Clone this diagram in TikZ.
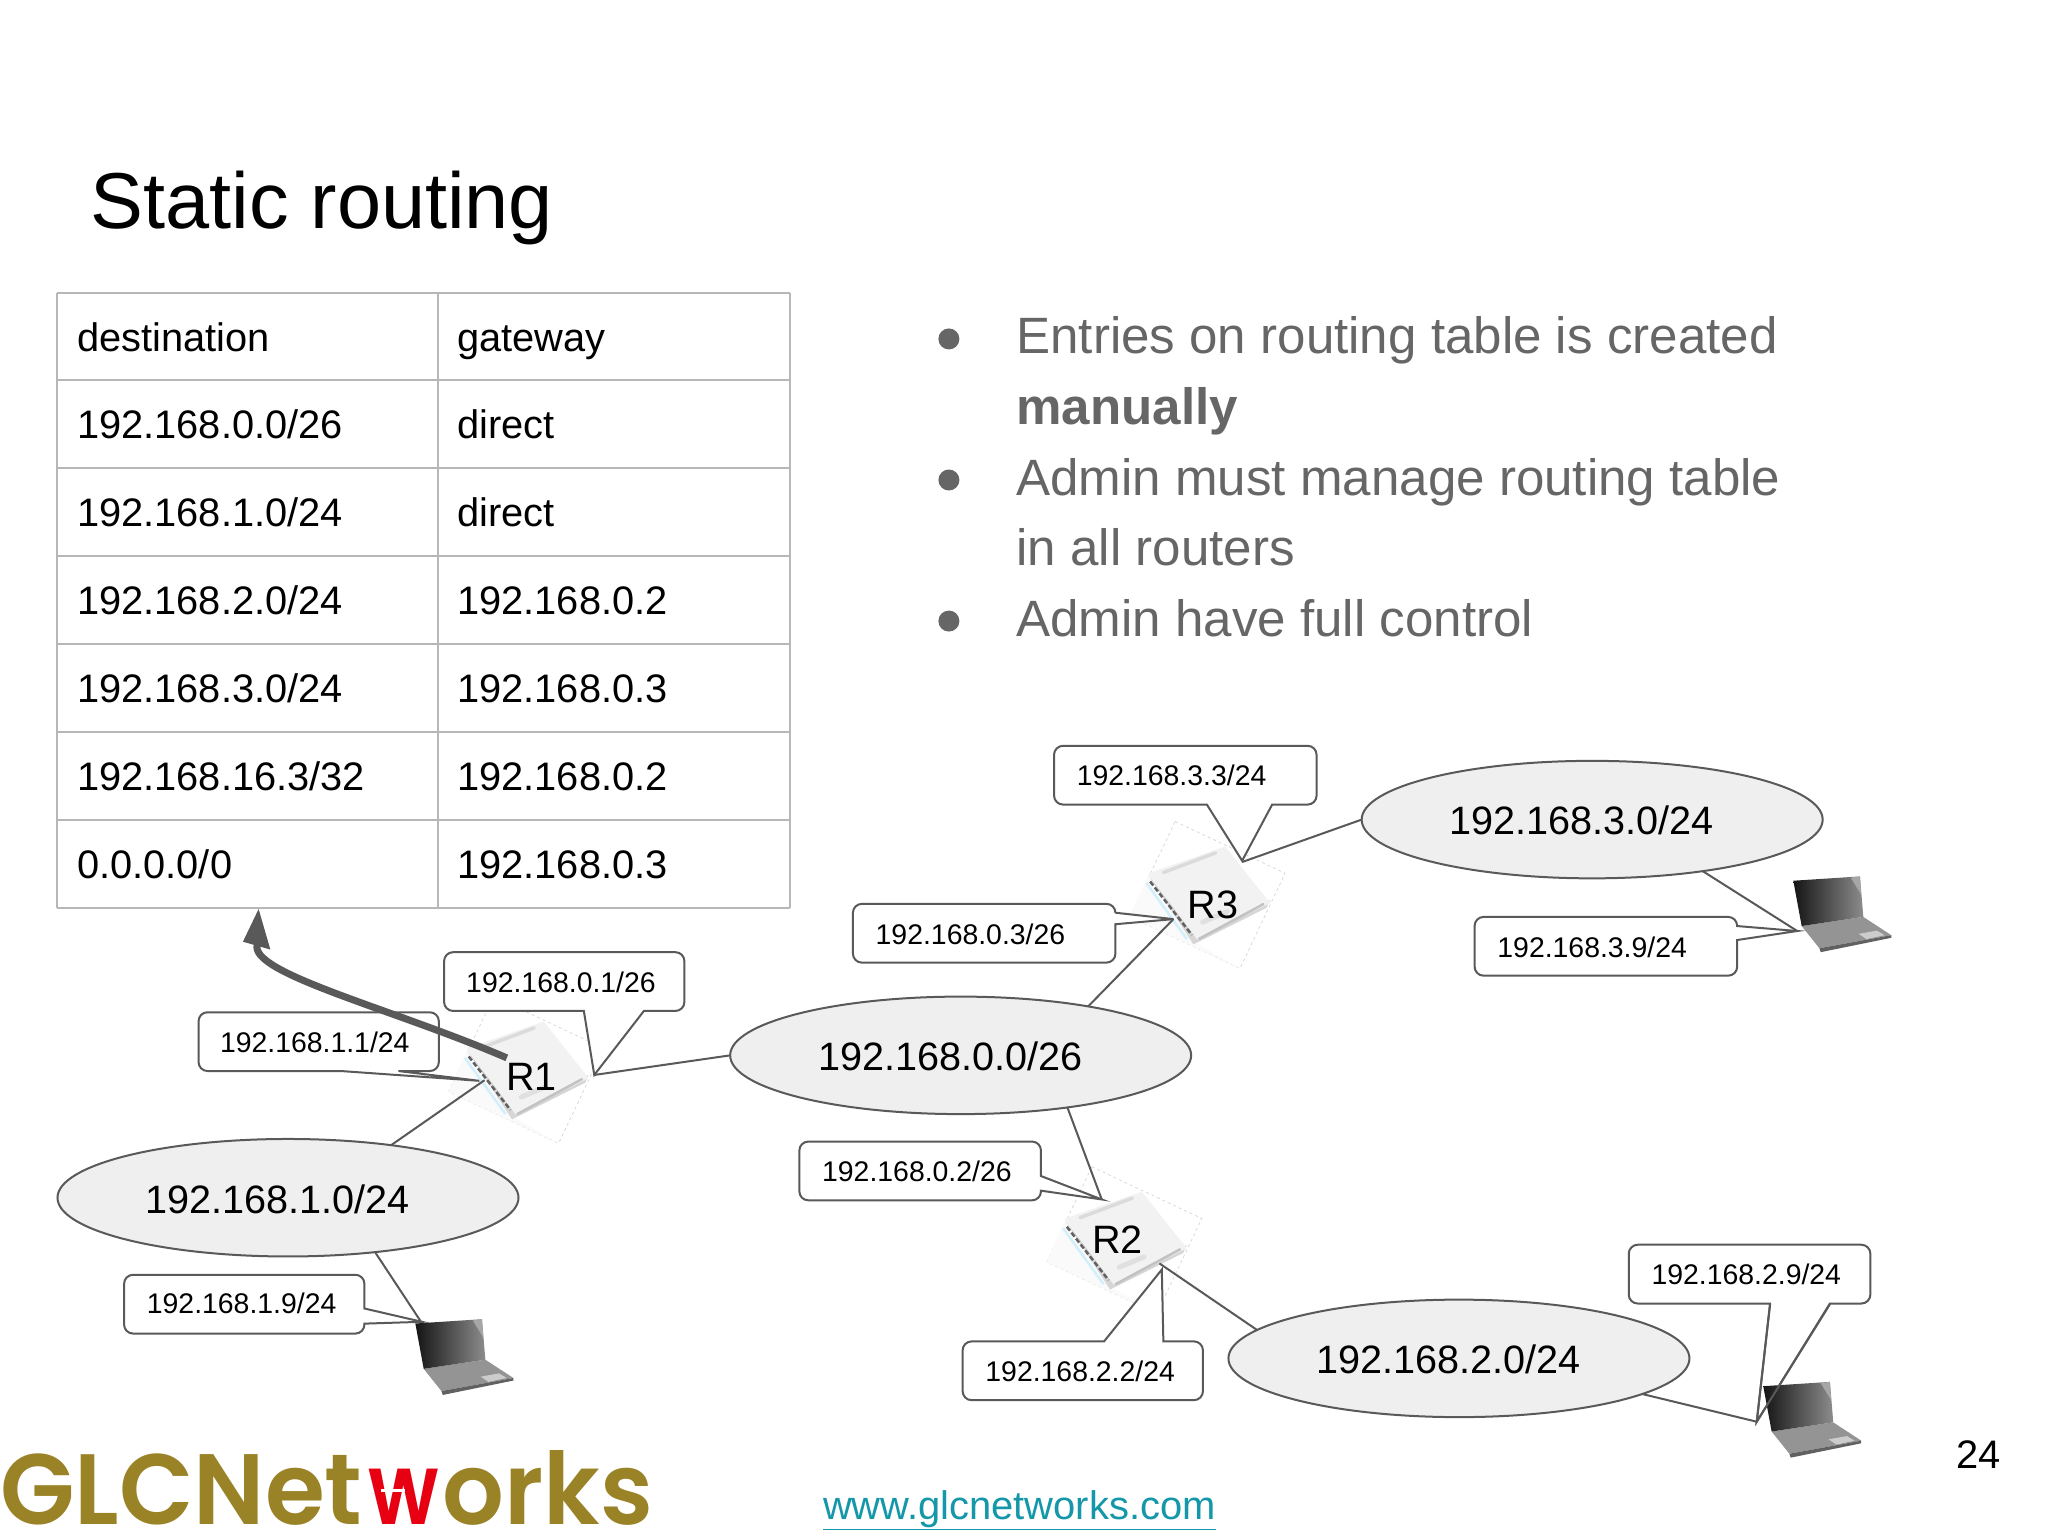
\documentclass[tikz,border=0pt]{standalone}
\usepackage{fontspec}
\setmainfont{Liberation Sans}
\newfontfamily\logofont{Poppins SemiBold}[FakeStretch=0.97]
\usetikzlibrary{shapes.geometric,arrows.meta}
\definecolor{ink}{HTML}{595959}
\definecolor{bodygrey}{HTML}{666666}
\definecolor{gridgrey}{HTML}{B7B7B7}
\definecolor{netfill}{HTML}{EFEFEF}
\definecolor{logogold}{HTML}{9A8226}
\definecolor{logored}{HTML}{E60012}
\definecolor{linkteal}{HTML}{1497A8}
\newcommand\fsz[1]{\fontsize{#1}{#1}\selectfont}
\tikzset{
  netell/.style={ellipse,draw=ink,fill=netfill,line width=2pt,minimum width=461pt,minimum height=117.5pt,inner sep=0pt,outer sep=0pt},
  wire/.style={draw=ink,line width=2pt},
  calloutbox/.style={draw=ink,fill=white,line width=2pt,line join=miter},
  smalltxt/.style={font=\fsz{28.4},inner sep=0pt,text=black},
  bigtxt/.style={font=\fsz{39.6},inner sep=0pt,text=black},
  celltxt/.style={font=\fsz{39.8},inner sep=0pt,anchor=base west,text=black},
  bodytxt/.style={font=\fsz{51.1},inner sep=0pt,anchor=base west,text=bodygrey},
  bulletdot/.style={circle,fill=bodygrey,minimum size=21pt,inner sep=0pt},
  gridline/.style={draw=gridgrey,line width=2pt},
  routericon/.pic={
    \draw[draw=black!16,fill=white,line width=.7pt,dash pattern=on 3pt off 3pt] (0,0) -- (84.2,39.6) -- (49.7,112.4) -- (-34.5,72.9) -- cycle;
    \fill[black!2] (-34.5,72.9) -- (-20,40) -- (16,93) -- (49.7,112.4) -- cycle;
    \fill[black!16] (-20.4,41) -- (14,94) -- (70,66) -- (72.7,60) -- (16,88) -- cycle;
    \fill[black!5] (-20.4,39.6) -- (38.3,19.1) -- (72.7,62.5) -- (16.6,90) -- cycle;
    \draw[black!14,line width=3.5pt,line cap=round] (-9,39) -- (31,24);
    \draw[black!12,line width=5pt,line cap=round] (21,77) -- (40,69);
    \draw[black!24,line width=2.5pt] (18,90) -- (68,63);
    \draw[cyan!18!white,line width=2.5pt] (-22,47) -- (9,90);
    \draw[black!62,line width=2.5pt,dash pattern=on 5pt off 2.5pt] (-19.1,45.9) -- (12.8,86.8);
  },
  laptopicon/.pic={
    \fill[black!42] (6.4,38) -- (53.6,31) -- (75,45) -- (20,55) -- cycle;
    \fill[black!62] (20,55) -- (75,45) -- (75,47) -- (21,58) -- cycle;
    \fill[black!20] (50,44) -- (64,41.5) -- (70,45) -- (56,48) -- cycle;
    \shade[left color=black!92,right color=black!45] (0,3.3) -- (51,0) -- (53.6,31) -- (6.4,38) -- cycle;
    \fill[black!35] (44,1) -- (51,0) -- (52,14) -- cycle;
  },
}
% name, x1, y1, x2, y2, tail near x (bottom edge), tail far x, tip
\newcommand\calloutdown[8]{%
  \coordinate (#1tip) at #8;
  \draw[calloutbox] (#6,#5) [rounded corners=9pt] -- (#2,#5) -- (#2,#3) -- (#4,#3) -- (#4,#5) [sharp corners] -- (#7,#5) -- (#1tip) -- cycle;}
% name, x1, y1, x2, y2, tail x1, tail x2, tip (top edge)
\newcommand\calloutup[8]{%
  \coordinate (#1tip) at #8;
  \draw[calloutbox] (#7,#3) [rounded corners=9pt] -- (#4,#3) -- (#4,#5) -- (#2,#5) -- (#2,#3) [sharp corners] -- (#6,#3) -- (#1tip) -- cycle;}
% name, x1, y1, x2, y2, tail y1, tail y2, tip (right edge)
\newcommand\calloutright[8]{%
  \coordinate (#1tip) at #8;
  \draw[calloutbox] (#4,#7) [rounded corners=9pt] -- (#4,#5) -- (#2,#5) -- (#2,#3) -- (#4,#3) [sharp corners] -- (#4,#6) -- (#1tip) -- cycle;}
\begin{document}
\begin{tikzpicture}[x=1.30612pt,y=-1.30612pt]
\path[use as bounding box,fill=white] (0,0) rectangle (1568,1176);

% title
\node[font=\fsz{79.3},inner sep=0pt,anchor=base west] (title) at (69,175) {Static routing};

% table
\foreach \i in {0,...,7} {\draw[gridline] (44,224+67.29*\i) -- (605,224+67.29*\i);}
\foreach \x in {44,335,605} {\draw[gridline] (\x,224) -- (\x,695);}
\node[celltxt] (d0) at (59,269) {destination};   \node[celltxt] (g0) at (350,269) {gateway};
\node[celltxt] (d1) at (59,336) {192.168.0.0/26}; \node[celltxt] (g1) at (350,336) {direct};
\node[celltxt] (d2) at (59,403) {192.168.1.0/24}; \node[celltxt] (g2) at (350,403) {direct};
\node[celltxt] (d3) at (59,470.5) {192.168.2.0/24}; \node[celltxt] (g3) at (350,470.5) {192.168.0.2};
\node[celltxt] (d4) at (59,538) {192.168.3.0/24}; \node[celltxt] (g4) at (350,538) {192.168.0.3};
\node[celltxt] (d5) at (59,605) {192.168.16.3/32};\node[celltxt] (g5) at (350,605) {192.168.0.2};
\node[celltxt] (d6) at (59,672.5) {0.0.0.0/0};      \node[celltxt] (g6) at (350,672.5) {192.168.0.3};

% bullets
\node[bulletdot] (b1) at (726.5,259.5) {};
\node[bulletdot] (b2) at (726.5,367.5) {};
\node[bulletdot] (b3) at (726.5,475.5) {};
\node[bodytxt] (t1) at (778,271) {Entries on routing table is created};
\node[bodytxt] (t2) at (778,325) {\textbf{manually}};
\node[bodytxt] (t3) at (778,379) {Admin must manage routing table};
\node[bodytxt] (t4) at (778,433) {in all routers};
\node[bodytxt] (t5) at (778,487) {Admin have full control};

% routers
\pic at (378,763) {routericon};
\pic at (835.9,893.3) {routericon};
\pic at (899.7,629) {routericon};

% networks
\node[netell] (n0) at (735.5,808) {};
\node[netell] (n1) at (220.5,917) {};
\node[netell] (n2) at (1117,1040) {};
\node[netell] (n3) at (1219,627.5) {};

% ports
\coordinate (r1w) at (371,827);
\coordinate (r1e) at (455,823);
\coordinate (r2n) at (843.5,918.3);
\coordinate (r2s) at (887.7,967.3);
\coordinate (r3w) at (898.4,703.7);
\coordinate (r3e) at (951,660);
\coordinate (pc1) at (323,1013);
\coordinate (pc2) at (1345,1088.5);
\coordinate (pc3) at (1376,712.8);

% links
\draw[wire] (r1w) -- (n1.27.5);
\draw[wire] (r1e) -- (n0.west);
\draw[wire] (n0.21.8) -- (r3w);
\draw[wire] (n0.-26.7) -- (r2n);
\draw[wire] (r3e) -- (n3.west);
\draw[wire] (r2s) -- (n2.172.9);
\draw[wire] (n1.-32.9) -- (pc1);
\draw[wire] (n2.-11.5) -- (pc2);
\draw[wire] (n3.-25.9) -- (pc3);

% callouts
\calloutdown{c01}{340}{729}{524}{774}{447}{493}{(455,823)}
\calloutdown{c11}{152}{775}{336}{820}{261}{305}{(367,827.5)}
\calloutdown{c33}{807}{571}{1008}{616}{924}{974}{(951,659)}
\calloutdown{c92}{1247}{953}{1432}{998}{1355.2}{1401}{(1345,1088.5)}
\calloutup{c22}{737}{1027}{921}{1072}{845.3}{890.7}{(889.5,972)}
\calloutright{c03}{653}{692}{854}{737}{698.8}{707.6}{(898.4,703.7)}
\calloutright{c02}{612}{874}{797}{919}{900.4}{911.6}{(843.5,918.3)}
\calloutright{c19}{95}{976}{279}{1021}{1001.8}{1013.4}{(323,1012)}
\calloutright{c39}{1129}{702}{1330}{747}{709}{719.7}{(1376,712.8)}

% laptops
\pic at (318,1010) {laptopicon};
\pic at (1373,671) {laptopicon};
\pic at (1350,1058) {laptopicon};
\coordinate (c92a) at (1355.2,998.6);
\coordinate (c92b) at (1401,998.6);
\draw[wire] (c92a) -- (c92tip) -- (c92b);

% labels
\node[bigtxt] (n0t) at (728,808.5) {192.168.0.0/26};
\node[bigtxt] (n1t) at (212.5,918) {192.168.1.0/24};
\node[bigtxt] (n2t) at (1109,1041) {192.168.2.0/24};
\node[bigtxt] (n3t) at (1211,628) {192.168.3.0/24};
\node[smalltxt] (l01) at (429.5,752) {192.168.0.1/26};
\node[smalltxt] (l11) at (241,798) {192.168.1.1/24};
\node[smalltxt] (l33) at (897,594) {192.168.3.3/24};
\node[smalltxt] (l92) at (1337,976) {192.168.2.9/24};
\node[smalltxt] (l22) at (827,1050) {192.168.2.2/24};
\node[smalltxt] (l03) at (743,715) {192.168.0.3/26};
\node[smalltxt] (l02) at (702,897) {192.168.0.2/26};
\node[smalltxt] (l19) at (185,998) {192.168.1.9/24};
\node[smalltxt] (l39) at (1219,725) {192.168.3.9/24};

% arrow from R1 to the table
\node[bigtxt] (r1) at (407,824.5) {R1};
\node[bigtxt] (r2) at (855.5,949) {R2};
\node[bigtxt] (r3) at (928.5,692.5) {R3};
\coordinate (arrowtip) at (198,696);
\coordinate (arrowb) at (186,721);
\coordinate (arrowc) at (207,727);
\coordinate (arrowneck) at (197,723);
\draw[draw=ink,line width=7pt] (r1.north) ++(-19,-4) coordinate (arrowstart) .. controls (300,772) and (190,745) .. (arrowneck);
\fill[ink] (arrowtip) -- (arrowb) -- (arrowc) -- cycle;

% footer
\node[font=\logofont\fsz{100},inner sep=0pt,anchor=base west,text=logogold] (logo) at (0,1167)
  {GLCNet\kern6pt\textcolor{logored}{\scalebox{0.86}[1]{w}}\kern4pt orks};
\draw[white,line width=2.5pt] (292,1141) -- (310,1141);
\node[font=\fsz{39.9},inner sep=0pt,anchor=base west,text=linkteal] (url) at (630,1163) {\underline{www.glcnetworks.com}};
\node[font=\fsz{39.8},inner sep=0pt,anchor=base west] (page) at (1498,1124) {24};
\end{tikzpicture}
\end{document}
